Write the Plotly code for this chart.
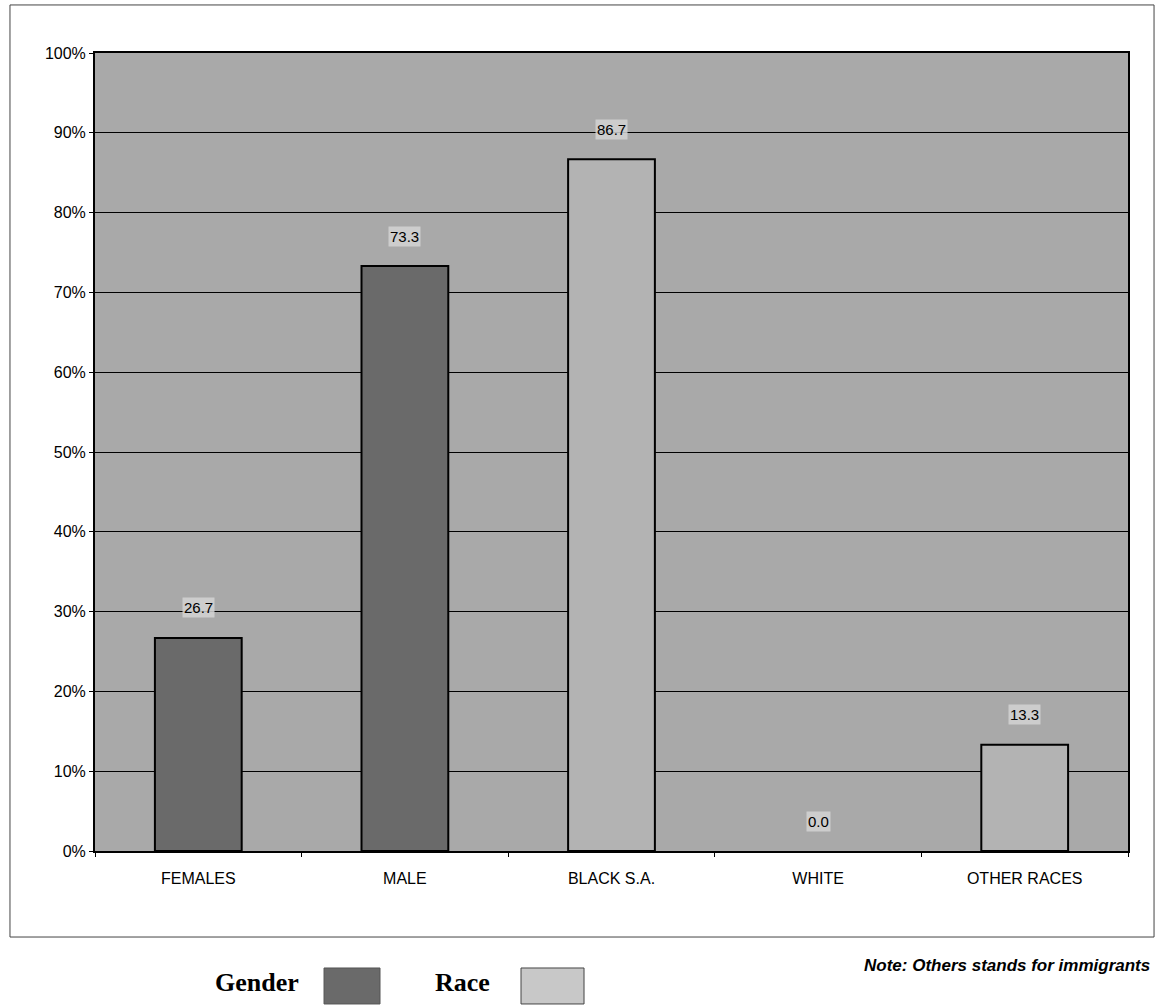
import plotly.graph_objects as go

# ---- data ----
gender_categories = ["FEMALES", "MALE"]
gender_values = [26.7, 73.3]
race_categories = ["BLACK S.A.", "WHITE", "OTHER RACES"]
race_values = [86.7, 0.0, 13.3]
all_categories = gender_categories + race_categories
y_tick_values = [0, 10, 20, 30, 40, 50, 60, 70, 80, 90, 100]
y_tick_labels = ["0%", "10%", "20%", "30%", "40%", "50%", "60%", "70%", "80%", "90%", "100%"]

GENDER_COLOR = "#6a6a6a"
RACE_COLOR = "#b3b3b3"
BG_COLOR = "#a9a9a9"
NARROW = "Liberation Sans Narrow, Arial Narrow, Liberation Sans, Arial, sans-serif"
SERIF = "Liberation Serif, Times New Roman, serif"


def edge_widths(values):
    return [0 if v == 0 else 2 for v in values]


fig = go.Figure()
fig.add_trace(go.Bar(
    x=gender_categories, y=gender_values, name="Gender", width=0.42,
    marker=dict(color=GENDER_COLOR, line=dict(color="black", width=edge_widths(gender_values))),
    showlegend=False,
))
fig.add_trace(go.Bar(
    x=race_categories, y=race_values, name="Race", width=0.42,
    marker=dict(color=RACE_COLOR, line=dict(color="black", width=edge_widths(race_values))),
    showlegend=False,
))

# value labels above bars
for cat, val in zip(all_categories, gender_values + race_values):
    fig.add_annotation(
        x=cat, y=val, xref="x", yref="y", text=f"{val:.1f}",
        showarrow=False, yshift=30,
        font=dict(family=NARROW, size=15, color="black"),
        bgcolor="rgba(212,212,212,0.85)",
    )

fig.update_layout(
    width=1161, height=1007,
    margin=dict(l=95, r=33, t=53, b=156),
    paper_bgcolor="white",
    plot_bgcolor=BG_COLOR,
    barmode="overlay",
    font=dict(family=NARROW, size=16, color="black"),
)
fig.update_xaxes(
    type="category", categoryorder="array", categoryarray=all_categories,
    showline=True, linecolor="black", linewidth=2, mirror=True,
    ticks="outside", tickson="boundaries", ticklen=4, tickcolor="black",
    showgrid=False, tickfont=dict(family=NARROW, size=16, color="black"),
    ticklabelstandoff=12,
)
fig.update_yaxes(
    range=[0, 100], tickmode="array", tickvals=y_tick_values, ticktext=y_tick_labels,
    showline=True, linecolor="black", linewidth=2, mirror=True,
    ticks="outside", ticklen=4, tickcolor="black",
    showgrid=True, gridcolor="black", gridwidth=1,
    zeroline=False,
    tickfont=dict(family=NARROW, size=16, color="black"),
)

# outer frame
fig.add_shape(type="rect", xref="paper", yref="paper",
              x0=-0.0823, x1=1.0252, y0=-0.1078, y1=1.0602,
              line=dict(color="#444444", width=1), layer="below")

# custom legend
fig.add_annotation(xref="paper", yref="paper", x=0.157, y=-0.1654,
                   text="<b>Gender</b>", showarrow=False,
                   font=dict(family=SERIF, size=26, color="black"),
                   xanchor="center", yanchor="middle")
fig.add_shape(type="rect", xref="paper", yref="paper",
              x0=0.2217, x1=0.2759, y0=-0.1917, y1=-0.1466,
              fillcolor=GENDER_COLOR, line=dict(color="#555555", width=1))
fig.add_annotation(xref="paper", yref="paper", x=0.3553, y=-0.1654,
                   text="<b>Race</b>", showarrow=False,
                   font=dict(family=SERIF, size=26, color="black"),
                   xanchor="center", yanchor="middle")
fig.add_shape(type="rect", xref="paper", yref="paper",
              x0=0.4124, x1=0.4734, y0=-0.1917, y1=-0.1466,
              fillcolor="#c8c8c8", line=dict(color="#444444", width=1))

fig.add_annotation(xref="paper", yref="paper", x=1.0232, y=-0.1441,
                   text="<b><i>Note: Others stands for immigrants</i></b>", showarrow=False,
                   font=dict(family=NARROW, size=17, color="black"),
                   xanchor="right", yanchor="middle")

fig.write_html("out.html")
